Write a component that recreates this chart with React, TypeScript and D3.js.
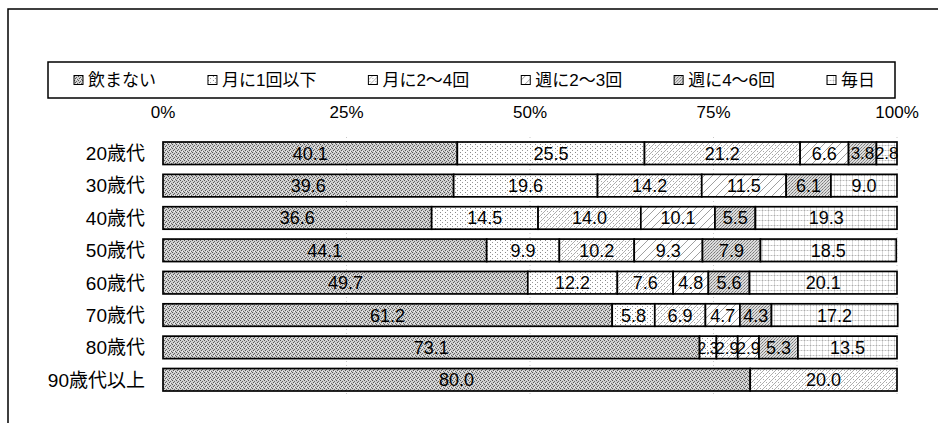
import { useMemo } from 'react';
import * as d3 from 'd3';

// age groups (rows) and drinking frequency (stack order, left to right)
const categories = ['20歳代', '30歳代', '40歳代', '50歳代', '60歳代', '70歳代', '80歳代', '90歳代以上'];
const seriesNames = ['飲まない', '月に1回以下', '月に2〜4回', '週に2〜3回', '週に4〜6回', '毎日'];

const nomanai = [40.1, 39.6, 36.6, 44.1, 49.7, 61.2, 73.1, 80.0];
const tsuki1 = [25.5, 19.6, 14.5, 9.9, 12.2, 5.8, 2.3, 0];
const tsuki2to4 = [21.2, 14.2, 14.0, 10.2, 7.6, 6.9, 2.9, 20.0];
const shu2to3 = [6.6, 11.5, 10.1, 9.3, 4.8, 4.7, 2.9, 0];
const shu4to6 = [3.8, 6.1, 5.5, 7.9, 5.6, 4.3, 5.3, 0];
const mainichi = [2.8, 9.0, 19.3, 18.5, 20.1, 17.2, 13.5, 0];

const tickValues = [0, 25, 50, 75, 100];

const FONT = '"Liberation Sans", "Noto Sans CJK JP", sans-serif';
const W = 938;
const H = 423;

const patternIds = ['p-none', 'p-m1', 'p-m24', 'p-w23', 'p-w46', 'p-daily'];

function Patterns() {
  return (
    <defs>
      {/* dense grey dither */}
      <pattern id="p-none" width="4" height="4" patternUnits="userSpaceOnUse">
        <rect width="4" height="4" fill="#cfcfcf" />
        <rect x="0" y="0" width="1" height="1" fill="#555" />
        <rect x="2" y="1" width="1" height="1" fill="#666" />
        <rect x="1" y="2" width="1" height="1" fill="#555" />
        <rect x="3" y="3" width="1" height="1" fill="#666" />
        <rect x="2" y="3" width="1" height="1" fill="#f2f2f2" />
      </pattern>
      {/* sparse dots */}
      <pattern id="p-m1" width="5" height="4" patternUnits="userSpaceOnUse">
        <rect width="5" height="4" fill="#fff" />
        <rect x="0" y="0" width="1" height="1" fill="#888" />
        <rect x="2" y="2" width="1" height="1" fill="#999" />
      </pattern>
      {/* diagonal hatch with dots */}
      <pattern id="p-m24" width="6" height="6" patternUnits="userSpaceOnUse">
        <rect width="6" height="6" fill="#fff" />
        <path d="M0,6 L6,0" stroke="#999" strokeWidth="0.8" />
        <rect x="1" y="1" width="1" height="1" fill="#aaa" />
        <rect x="4" y="4" width="1" height="1" fill="#aaa" />
      </pattern>
      {/* sparser diagonal hatch */}
      <pattern id="p-w23" width="8" height="8" patternUnits="userSpaceOnUse">
        <rect width="8" height="8" fill="#fff" />
        <path d="M0,8 L8,0 M-2,2 L2,-2 M6,10 L10,6" stroke="#888" strokeWidth="0.8" />
      </pattern>
      {/* medium grey dither */}
      <pattern id="p-w46" width="3" height="3" patternUnits="userSpaceOnUse">
        <rect width="3" height="3" fill="#dcdcdc" />
        <rect x="0" y="0" width="1" height="1" fill="#777" />
        <rect x="2" y="1" width="1" height="1" fill="#888" />
        <rect x="1" y="2" width="1" height="1" fill="#999" />
      </pattern>
      {/* dotted grid */}
      <pattern id="p-daily" width="6" height="5" patternUnits="userSpaceOnUse">
        <rect width="6" height="5" fill="#fff" />
        <rect x="0" y="0" width="6" height="1" fill="#e0e0e0" />
        <rect x="0" y="0" width="1" height="5" fill="#d8d8d8" />
        <rect x="0" y="0" width="1" height="1" fill="#aaa" />
        <rect x="3" y="0" width="1" height="1" fill="#bbb" />
      </pattern>
    </defs>
  );
}

const measureCtx = typeof document !== 'undefined' ? document.createElement('canvas').getContext('2d') : null;
function textWidth(s: string, size: number) {
  if (!measureCtx) return s.length * size;
  measureCtx.font = `${size}px ${FONT}`;
  return measureCtx.measureText(s).width;
}

export default function App() {
  const margin = { left: 163, right: 41, top: 142, bottom: 32 };
  const legendBox = { x: 48, y: 62, w: 847, h: 36 };

  const rows = categories.map((c, i) => ({
    cat: c,
    [seriesNames[0]]: nomanai[i],
    [seriesNames[1]]: tsuki1[i],
    [seriesNames[2]]: tsuki2to4[i],
    [seriesNames[3]]: shu2to3[i],
    [seriesNames[4]]: shu4to6[i],
    [seriesNames[5]]: mainichi[i],
  }));

  const stacked = useMemo(() => d3.stack<any>().keys(seriesNames)(rows), []);

  const x = d3.scaleLinear().domain([0, 100]).range([margin.left, W - margin.right]);
  const y = d3
    .scaleBand()
    .domain(categories)
    .range([margin.top, H - margin.bottom])
    .paddingInner(0.305)
    .paddingOuter(0);

  // legend layout from measured text widths
  const legFont = 17;
  const markerW = 10;
  const widths = seriesNames.map((s) => markerW + 4 + textWidth(s, legFont));
  const padL = 26;
  const padR = 20;
  const gap = (legendBox.w - padL - padR - d3.sum(widths)) / (seriesNames.length - 1);
  let cur = legendBox.x + padL;
  const legendItems = seriesNames.map((s, i) => {
    const item = { name: s, x: cur, pid: patternIds[i] };
    cur += widths[i] + gap;
    return item;
  });

  return (
    <svg width={W} height={H} style={{ display: 'block', position: 'absolute', left: 0, top: 0, background: '#fff' }} fontFamily={FONT}>
      <Patterns />
      {/* outer frame (only top and left visible) */}
      <path d={`M8,${H + 5} L8,9 L${W + 5},9`} fill="none" stroke="#000" strokeWidth={1.5} />

      {/* legend */}
      <rect x={legendBox.x} y={legendBox.y} width={legendBox.w} height={legendBox.h} fill="#fff" stroke="#000" strokeWidth={1.5} />
      {legendItems.map((d) => (
        <g key={d.name} transform={`translate(${d.x},${legendBox.y + legendBox.h / 2})`}>
          <rect x={0} y={-4.5} width={markerW - 1} height={markerW - 1} fill={`url(#${d.pid})`} stroke="#000" strokeWidth={1} />
          <text x={markerW + 4} dy="0.36em" fontSize={legFont}>
            {d.name}
          </text>
        </g>
      ))}

      {/* percent ticks */}
      {tickValues.map((t) => (
        <text key={t} x={x(t)} y={112} dy="0.36em" textAnchor="middle" fontSize={17}>
          {t}%
        </text>
      ))}

      {/* faint dotted grid */}
      {tickValues.slice(1).map((t) => (
        <line
          key={'g' + t}
          x1={x(t)}
          x2={x(t)}
          y1={margin.top - 5}
          y2={H - margin.bottom + 4}
          stroke="#bbb"
          strokeWidth={0.8}
          strokeDasharray="1 3"
        />
      ))}

      {/* category labels */}
      {categories.map((c) => (
        <text key={c} x={145} y={(y(c) as number) + y.bandwidth() / 2} dy="0.36em" textAnchor="end" fontSize={19}>
          {c}
        </text>
      ))}

      {/* bars */}
      {stacked.map((s, si) => (
        <g key={s.key}>
          {s
            .filter((d) => d[1] - d[0] > 0)
            .map((d) => (
              <rect
                key={d.data.cat}
                x={x(d[0])}
                y={y(d.data.cat)}
                width={x(d[1]) - x(d[0])}
                height={y.bandwidth()}
                fill={`url(#${patternIds[si]})`}
                stroke="#000"
                strokeWidth={1.7}
              />
            ))}
        </g>
      ))}

      {/* value labels; narrow segments get a slightly tighter label */}
      {stacked.map((s) => (
        <g key={'l' + s.key}>
          {s
            .filter((d) => d[1] - d[0] > 0)
            .map((d) => {
              const segW = x(d[1]) - x(d[0]);
              const label = (d[1] - d[0]).toFixed(1);
              const natural = textWidth(label, 17);
              const narrow = segW < 30;
              return (
                <text
                  key={d.data.cat}
                  x={(x(d[0]) + x(d[1])) / 2}
                  y={(y(d.data.cat) as number) + y.bandwidth() / 2}
                  dy="0.36em"
                  textAnchor="middle"
                  fontSize={narrow ? 17 : 18}
                  textLength={narrow ? Math.min(natural, segW + 3) : undefined}
                  lengthAdjust="spacingAndGlyphs"
                  fill="#000"
                >
                  {label}
                </text>
              );
            })}
        </g>
      ))}
    </svg>
  );
}
